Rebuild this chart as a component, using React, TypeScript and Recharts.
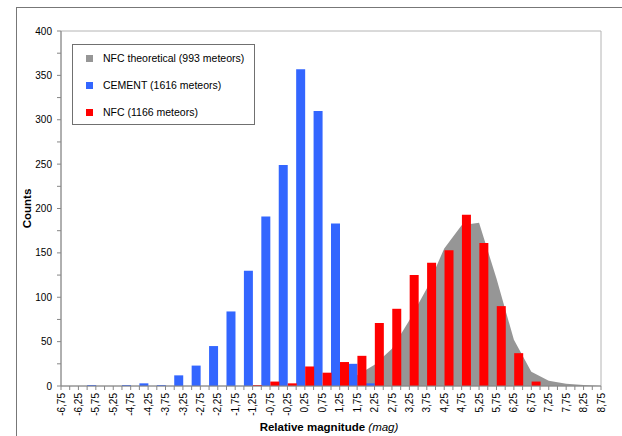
import React from 'react';
import { ComposedChart, Bar, Area, XAxis, YAxis, ReferenceArea, Legend } from 'recharts';

const CATEGORIES = [
  -6.75, -6.25, -5.75, -5.25, -4.75, -4.25, -3.75, -3.25, -2.75, -2.25, -1.75, -1.25, -0.75, -0.25,
  0.25, 0.75, 1.25, 1.75, 2.25, 2.75, 3.25, 3.75, 4.25, 4.75, 5.25, 5.75, 6.25, 6.75, 7.25, 7.75, 8.25, 8.75,
];
const CEMENT = [0, 0, 1, 0, 1, 3, 1, 12, 23, 45, 84, 130, 191, 249, 357, 310, 183, 25, 3, 0, 0, 0, 0, 0, 0, 0, 0, 0, 0, 0, 0, 0];
const NFC = [0, 0, 0, 0, 0, 0, 0, 0, 0, 0, 0, 1, 5, 3, 22, 15, 27, 34, 71, 87, 125, 139, 153, 193, 161, 90, 37, 5, 0, 0, 0, 0];
const NFC_THEO = [0, 0, 0, 0, 0, 0, 0, 0, 0, 0, 0, 0, 0, 0, 0, 0, 3, 12, 24, 42, 74, 110, 155, 181, 184, 121, 52, 16, 6, 2.6, 1, 0];
const Y_TICKS = [0, 25, 50, 75, 100, 125, 150, 175, 200, 225, 250, 275, 300, 325, 350, 375, 400];
const LEGEND_ITEMS = [
  { label: 'NFC theoretical (993 meteors)', color: '#969696' },
  { label: 'CEMENT (1616 meteors)', color: '#3366FF' },
  { label: 'NFC (1166 meteors)', color: '#FF0000' },
];

const data = CATEGORIES.map((x, i) => ({ x, cement: CEMENT[i], nfc: NFC[i], theo: NFC_THEO[i] }));

const W = 622;
const H = 436;
const MARGIN = { top: 31, right: 21, left: 16, bottom: 0 };
const Y_AXIS_W = 45;
const X_AXIS_H = 50;
const PLOT_W = W - MARGIN.left - MARGIN.right - Y_AXIS_W;
const HALF_STEP = PLOT_W / (CATEGORIES.length - 1) / 2;
const TICK_SIZE = 4;
const TICK_MARGIN = 3;
const FONT = '"Liberation Sans", Arial, sans-serif';
const AXIS_COLOR = '#868686';

const fmt = (v: number) => v.toFixed(2).replace('.', ',');

const XTick = (props: any) => {
  const { x, y, payload, index } = props;
  const axisY = y - TICK_MARGIN - TICK_SIZE;
  return (
    <g>
      {index < CATEGORIES.length - 1 && (
        <line x1={x + HALF_STEP} x2={x + HALF_STEP} y1={axisY} y2={axisY + TICK_SIZE} stroke={AXIS_COLOR} />
      )}
      <text
        x={x}
        y={y}
        dy="0.36em"
        textAnchor="end"
        fontSize={10}
        fill="#000"
        transform={`rotate(-90, ${x}, ${y})`}
      >
        {fmt(payload.value)}
      </text>
    </g>
  );
};

const XLabel = (props: any) => {
  const vb = props.viewBox;
  return (
    <text x={vb.x + vb.width / 2 - 2} y={vb.y + 45} textAnchor="middle" fontSize={11.5} fill="#000">
      <tspan fontWeight="bold">Relative magnitude </tspan>
      <tspan fontStyle="italic">(mag)</tspan>
    </text>
  );
};

const YLabel = (props: any) => {
  const vb = props.viewBox;
  const cx = 31;
  const cy = vb.y + vb.height / 2;
  return (
    <text x={cx} y={cy} textAnchor="middle" fontSize={11.5} fontWeight="bold" fill="#000" transform={`rotate(-90, ${cx}, ${cy})`}>
      Counts
    </text>
  );
};

const LegendBox = () => (
  <div
    style={{
      width: 183,
      height: 81,
      boxSizing: 'border-box',
      border: '1px solid #707070',
      background: '#fff',
      fontFamily: FONT,
      fontSize: 10.5,
      color: '#000',
      position: 'relative',
    }}
  >
    {LEGEND_ITEMS.map((it, i) => (
      <div key={it.label} style={{ position: 'absolute', left: 13, top: 7 + i * 27, height: 12, display: 'flex', alignItems: 'center', whiteSpace: 'nowrap' }}>
        <span style={{ display: 'inline-block', width: 7, height: 7, background: it.color, marginRight: 10 }} />
        <span>{it.label}</span>
      </div>
    ))}
  </div>
);

export default function App() {
  return (
    <div style={{ position: 'absolute', left: 0, top: 0, width: W, height: H, overflow: 'hidden', background: '#fff' }}>
      <div
        style={{
          position: 'absolute',
          left: 16,
          top: 7,
          width: 800,
          height: 600,
          borderLeft: '1px solid #777',
          borderTop: '1px solid #777',
        }}
      />
      <div style={{ position: 'absolute', left: 0, top: 0 }}>
        <ComposedChart
          width={W}
          height={H}
          data={data}
          margin={MARGIN}
          barGap={0}
          barCategoryGap={0}
          style={{ fontFamily: FONT }}
        >
          <ReferenceArea x1={-6.75} x2={8.75} y1={0} y2={400} fill="none" stroke="#b4b4b4" strokeWidth={1} ifOverflow="visible" />
          <XAxis
            dataKey="x"
            type="number"
            domain={[-6.75, 8.75]}
            allowDataOverflow
            ticks={CATEGORIES}
            tickCount={32}
            interval={0}
            height={X_AXIS_H}
            tickSize={TICK_SIZE}
            tickMargin={TICK_MARGIN}
            tick={<XTick />}
            stroke={AXIS_COLOR}
            label={<XLabel />}
          />
          <YAxis
            type="number"
            domain={[0, 400]}
            ticks={Y_TICKS}
            interval={0}
            width={Y_AXIS_W}
            tickSize={TICK_SIZE}
            tickMargin={5}
            tickFormatter={(v: number) => (v % 50 === 0 ? String(v) : '')}
            tick={{ fill: '#000', fontSize: 10 }}
            stroke={AXIS_COLOR}
            label={<YLabel />}
          />
          <Area type="linear" dataKey="theo" fill="#969696" fillOpacity={1} stroke="none" isAnimationActive={false} />
          <Bar dataKey="cement" fill="#3366FF" isAnimationActive={false} />
          <Bar dataKey="nfc" fill="#FF0000" isAnimationActive={false} />
          <Legend
            layout="vertical"
            align="center"
            verticalAlign="middle"
            wrapperStyle={{ left: 72, top: 44, width: 183, height: 81 }}
            content={() => <LegendBox />}
          />
        </ComposedChart>
      </div>
    </div>
  );
}
